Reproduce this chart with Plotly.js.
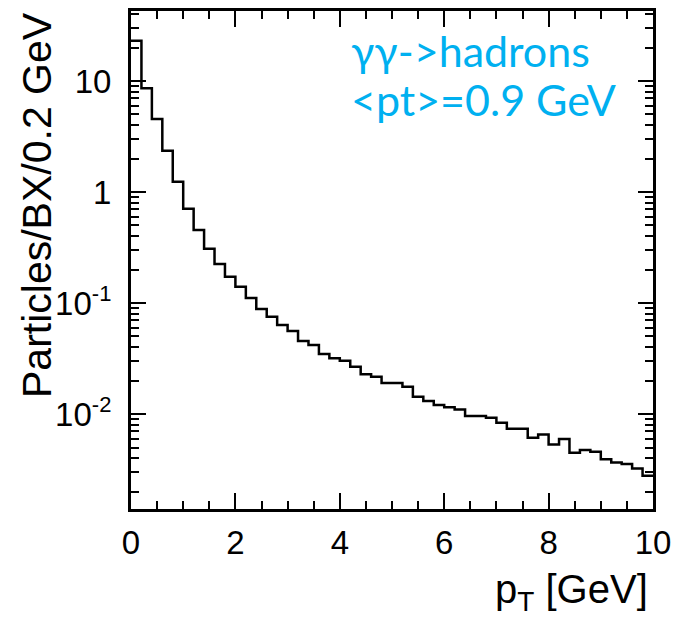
<!DOCTYPE html>
<html>
<head>
<meta charset="utf-8">
<script src="https://cdn.plot.ly/plotly-3.0.1.min.js"></script>
<style>html,body{margin:0;padding:0;background:#fff;}#chart{width:684px;height:623px;}</style>
</head>
<body>
<div id="chart"></div>
<script>
// pT bins (GeV), width 0.2
const binWidth = 0.2;
const nBins = 50;
// Particles per BX per 0.2 GeV
const counts = [
  23.1, 8.6, 4.54, 2.36, 1.24, 0.707, 0.455, 0.308, 0.225, 0.173,
  0.140, 0.111, 0.0883, 0.0753, 0.0633, 0.056, 0.0455, 0.0419, 0.0347, 0.0318,
  0.0302, 0.0267, 0.0228, 0.0217, 0.0191, 0.0191, 0.0176, 0.0143, 0.0131, 0.0121,
  0.0115, 0.0110, 0.0096, 0.0096, 0.00927, 0.00835, 0.00738, 0.00738, 0.00611, 0.00656,
  0.00533, 0.00595, 0.00448, 0.00474, 0.00457, 0.00391, 0.00367, 0.00355, 0.00324, 0.00278
];
const xTickVals = [0, 2, 4, 6, 8, 10];
const yTickVals = [0.01, 0.1, 1, 10];
const yTickText = ['10<sup><span style="font-size:22px">-2</span></sup>', '10<sup><span style="font-size:22px">-1</span></sup>', '1', '10'];
const yMinorVals = [];
[0.001, 0.01, 0.1, 1, 10].forEach(d => { for (let k = 2; k <= 9; k++) yMinorVals.push(d * k); });
const labelLine1 = 'γγ->hadrons';
const labelLine2 = '<pt>=0.9 GeV';
const xTitle = 'p<sub>T</sub> [GeV]';
const yTitle = 'Particles/BX/0.2 GeV';

const xs = [], ys = [];
for (let i = 0; i < nBins; i++) { xs.push(i * binWidth); ys.push(counts[i]); }
xs.push(nBins * binWidth); ys.push(counts[nBins - 1]);

const esc = s => s.replace(/</g, '&lt;').replace(/>/g, '&gt;');
const axisFont = {family: 'Liberation Sans, Arial, sans-serif', size: 33, color: '#000'};

const data = [{
  type: 'scatter', mode: 'lines', x: xs, y: ys,
  line: {shape: 'hv', color: '#000', width: 2.5}, hoverinfo: 'none'
}];

const layout = {
  width: 684, height: 623,
  margin: {l: 131, r: 31, t: 11, b: 114},
  paper_bgcolor: '#fff', plot_bgcolor: '#fff',
  showlegend: false,
  xaxis: {
    range: [0, 10], showgrid: false, zeroline: false,
    showline: true, linecolor: '#000', linewidth: 3, mirror: 'ticks',
    ticks: 'inside', ticklen: 16, tickwidth: 2, tickcolor: '#000', tickvals: xTickVals,
    minor: {dtick: 0.5, ticks: 'inside', ticklen: 8, tickwidth: 2, tickcolor: '#000'},
    tickfont: axisFont, ticklabelstandoff: 2
  },
  yaxis: {
    type: 'log', range: [-2.855, 1.631], showgrid: false, zeroline: false,
    showline: true, linecolor: '#000', linewidth: 3, mirror: 'ticks',
    ticks: 'inside', ticklen: 15, tickwidth: 2, tickcolor: '#000',
    tickvals: yTickVals, ticktext: yTickText,
    minor: {tickvals: yMinorVals, ticks: 'inside', ticklen: 8, tickwidth: 2, tickcolor: '#000'},
    tickfont: axisFont, ticklabelstandoff: 10
  },
  annotations: [
    {xref: 'paper', yref: 'paper', x: 1, y: 0, xshift: -3, yshift: -110, xanchor: 'right', yanchor: 'bottom',
     text: xTitle, showarrow: false, font: {family: 'Liberation Sans, Arial, sans-serif', size: 40, color: '#000'}},
    {xref: 'paper', yref: 'paper', x: 0, y: 1, xshift: -131 + 12, yshift: 1, xanchor: 'left', yanchor: 'top', textangle: -90,
     text: yTitle, showarrow: false, font: {family: 'Liberation Sans, Arial, sans-serif', size: 41, color: '#000'}},
    {xref: 'paper', yref: 'paper', x: 0, y: 1, xshift: 218, yshift: -12, xanchor: 'left', yanchor: 'top',
     text: esc(labelLine1), showarrow: false, font: {family: 'Lato, sans-serif', size: 43, color: '#00B0F0'}},
    {xref: 'paper', yref: 'paper', x: 0, y: 1, xshift: 218, yshift: -61, xanchor: 'left', yanchor: 'top',
     text: esc(labelLine2), showarrow: false, font: {family: 'Lato, sans-serif', size: 43, color: '#00B0F0'}}
  ]
};

Plotly.newPlot('chart', data, layout, {staticPlot: true, displayModeBar: false});
</script>
</body>
</html>
